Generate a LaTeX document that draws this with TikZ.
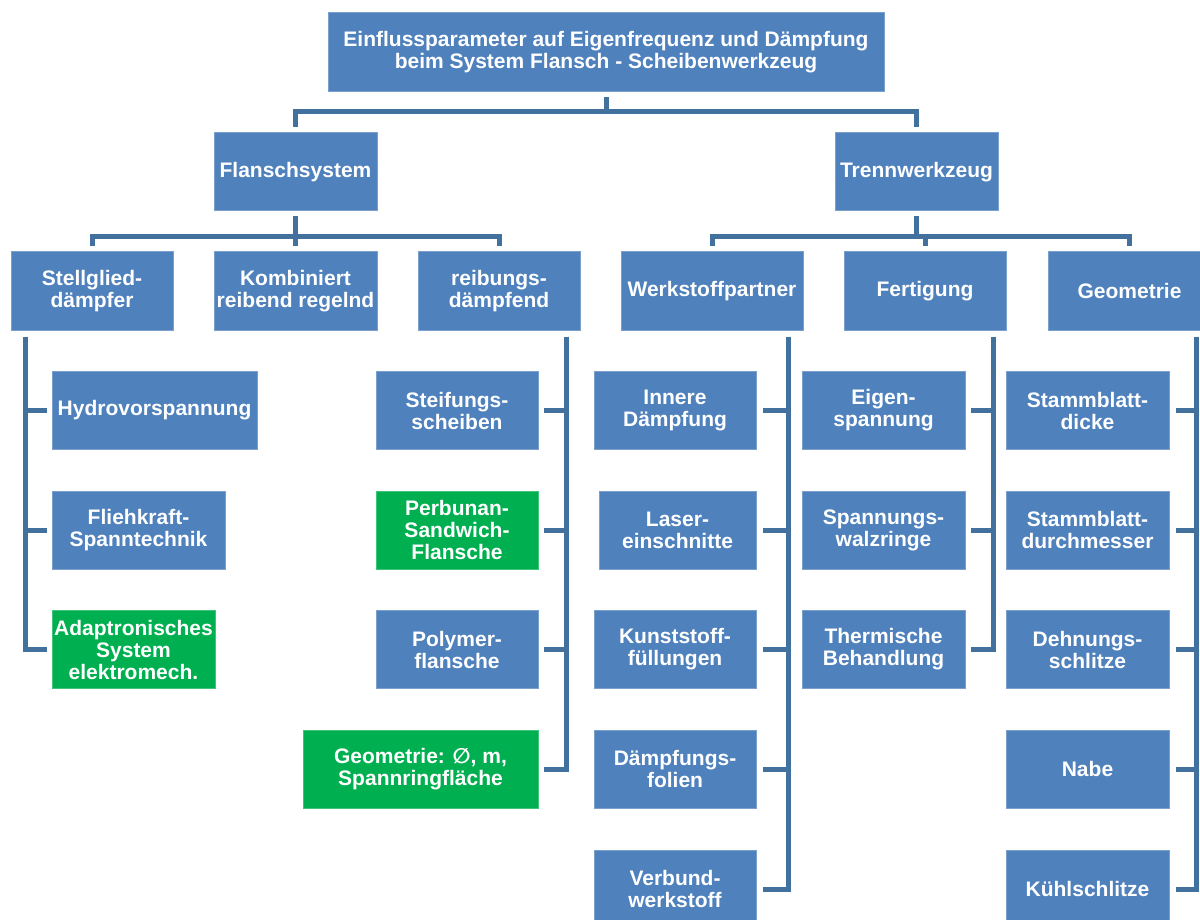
\documentclass[tikz,border=0pt]{standalone}
\usepackage{fontspec}
\setmainfont{Liberation Sans}
\newfontfamily\symfont{DejaVu Sans}
\definecolor{boxblue}{HTML}{4F81BD}
\definecolor{boxgreen}{HTML}{00B050}
\definecolor{linecol}{HTML}{41719C}
\tikzset{
  bx/.style={draw=boxblue!75!white, line width=1pt, fill=boxblue, text=white,
    font=\fontsize{21}{22}\selectfont\bfseries, align=center, inner sep=0pt,
    minimum height=78pt},
  gbx/.style={bx, fill=boxgreen, draw=boxgreen!75!white},
  conn/.style={draw=linecol, line width=5pt, line join=miter, line cap=butt},
}
\begin{document}
\begin{tikzpicture}[x=1pt,y=-1pt]
\useasboundingbox (0,0) rectangle (1200,920);
\clip (0,0) rectangle (1200,920);
% level 0
\node[bx, minimum width=556pt, minimum height=79pt] (top) at (606,52.5) {Einflussparameter auf Eigenfrequenz und Dämpfung\\beim System Flansch - Scheibenwerkzeug};
% level 1
\node[bx, minimum width=163pt] (fl) at (295.5,172) {Flanschsystem};
\node[bx, minimum width=163pt] (tw) at (916.5,172) {Trennwerkzeug};
% level 2
\node[bx, minimum width=162pt] (s1) at (92,291) {Stellglied-\\dämpfer};
\node[bx, minimum width=163pt] (s2) at (295.5,291) {Kombiniert\\reibend regelnd};
\node[bx, minimum width=162pt] (s3) at (499,291) {reibungs-\\dämpfend};
\node[bx, minimum width=182pt] (s4) at (712,291) {Werkstoffpartner};
\node[bx, minimum width=162pt] (s5) at (925,291) {Fertigung};
\node[bx, minimum width=163pt] (s6) at (1129.5,291) {Geometrie};
% children of s1
\node[bx, minimum width=205pt] (a1) at (154.5,410.5) {Hydrovorspannung};
\node[bx, minimum width=173pt] (a2) at (138.5,530) {Fliehkraft-\\Spanntechnik};
\node[gbx, minimum width=163pt] (a3) at (133.5,649.5) {Adaptronisches\\System\\elektromech.};
% children of s3
\node[bx, minimum width=162pt] (b1) at (457,410.5) {Steifungs-\\scheiben};
\node[gbx, minimum width=162pt] (b2) at (457,530) {Perbunan-\\Sandwich-\\Flansche};
\node[bx, minimum width=162pt] (b3) at (457,649.5) {Polymer-\\flansche};
\node[gbx, minimum width=235pt] (b4) at (420.5,769) {Geometrie: {\symfont ∅}, m,\\Spannringfläche};
% children of s4
\node[bx, minimum width=162pt] (c1) at (675,410.5) {Innere\\Dämpfung};
\node[bx, minimum width=157pt] (c2) at (677.5,530) {Laser-\\einschnitte};
\node[bx, minimum width=162pt] (c3) at (675,649.5) {Kunststoff-\\füllungen};
\node[bx, minimum width=162pt] (c4) at (675,769) {Dämpfungs-\\folien};
\node[bx, minimum width=162pt] (c5) at (675,889) {Verbund-\\werkstoff};
% children of s5
\node[bx, minimum width=163pt] (d1) at (883.5,410.5) {Eigen-\\spannung};
\node[bx, minimum width=163pt] (d2) at (883.5,530) {Spannungs-\\walzringe};
\node[bx, minimum width=163pt] (d3) at (883.5,649.5) {Thermische\\Behandlung};
% children of s6
\node[bx, minimum width=163pt] (e1) at (1087.5,410.5) {Stammblatt-\\dicke};
\node[bx, minimum width=163pt] (e2) at (1087.5,530) {Stammblatt-\\durchmesser};
\node[bx, minimum width=163pt] (e3) at (1087.5,649.5) {Dehnungs-\\schlitze};
\node[bx, minimum width=163pt] (e4) at (1087.5,769) {Nabe};
\node[bx, minimum width=163pt] (e5) at (1087.5,889) {Kühlschlitze};
% bus coordinates
\coordinate (bus0) at (0,112);
\coordinate (bus1) at (0,237);
\coordinate (la) at (25,0);
\coordinate (lb) at (566,0);
\coordinate (lc) at (788,0);
\coordinate (ld) at (993,0);
\coordinate (le) at (1196,0);
% level 0 -> 1
\foreach \c in {fl,tw}
  \draw[conn] ([yshift=-5pt]top.south) -- (top.south |- bus0) -| ([yshift=5pt]\c.north);
% level 1 -> 2
\foreach \c in {s1,s2,s3}
  \draw[conn] ([yshift=-5pt]fl.south) -- (fl.south |- bus1) -| ([yshift=5pt]\c.north);
\foreach \c in {s4,s5,s6}
  \draw[conn] ([yshift=-5pt]tw.south) -- (tw.south |- bus1) -| ([yshift=5pt]\c.north);
% level 2 -> children
\foreach \c in {a1,a2,a3}
  \draw[conn] ([yshift=-6pt]s1.south -| la) |- ([xshift=-5pt]\c.west);
\foreach \c in {b1,b2,b3,b4}
  \draw[conn] ([yshift=-6pt]s3.south -| lb) |- ([xshift=5pt]\c.east);
\foreach \c in {c1,c2,c3,c4,c5}
  \draw[conn] ([yshift=-6pt]s4.south -| lc) |- ([xshift=6pt]\c.east);
\foreach \c in {d1,d2,d3}
  \draw[conn] ([yshift=-6pt]s5.south -| ld) |- ([xshift=5pt]\c.east);
\foreach \c in {e1,e2,e3,e4,e5}
  \draw[conn] ([yshift=-6pt]s6.south -| le) |- ([xshift=6pt]\c.east);
\end{tikzpicture}
\end{document}
